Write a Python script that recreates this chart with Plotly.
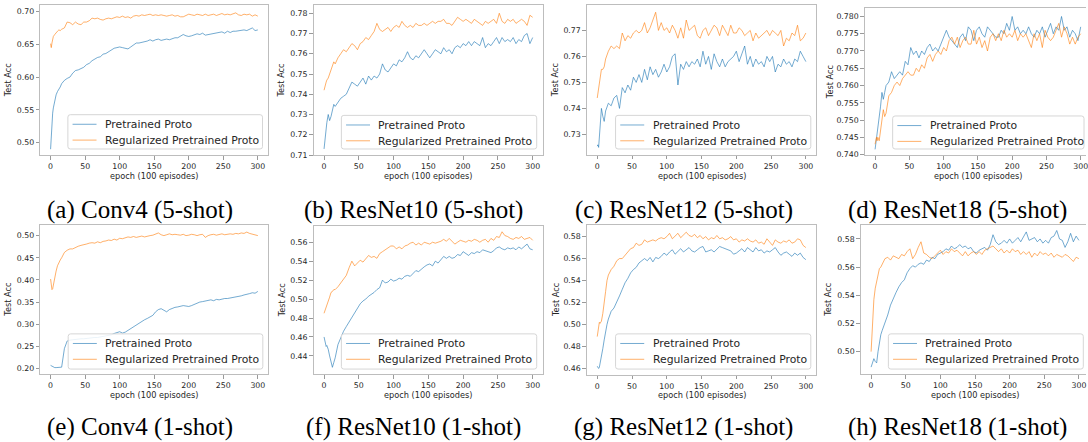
import plotly.graph_objects as go

# ---------------- data ----------------
EPOCHS = [0, 1, 2, 3, 4, 6, 8, 10, 12, 14, 16,
          20, 24, 28, 32, 36, 40, 44, 48, 52, 56,
          60, 64, 68, 72, 76, 80, 84, 88, 92, 96,
          100, 104, 108, 112, 116, 120, 124, 128, 132, 136,
          140, 144, 148, 152, 156, 160, 164, 168, 172, 176,
          180, 184, 188, 192, 196, 200, 204, 208, 212, 216,
          220, 224, 228, 232, 236, 240, 244, 248, 252, 256,
          260, 264, 268, 272, 276, 280, 284, 288, 292, 296,
          300]

SERIES_NAMES = ["Pretrained Proto", "Regularized Pretrained Proto"]
CAPTIONS = ["(a) Conv4 (5-shot)", "(b) ResNet10 (5-shot)", "(c) ResNet12 (5-shot)", "(d) ResNet18 (5-shot)",
            "(e) Conv4 (1-shot)", "(f) ResNet10 (1-shot)", "(g) ResNet12 (1-shot)", "(h) ResNet18 (1-shot)"]
X_TITLE = "epoch (100 episodes)"
Y_TITLE = "Test Acc"

CONV4_5_PRE = [0.490, 0.515, 0.535, 0.545, 0.553, 0.565, 0.573, 0.578, 0.581, 0.585, 0.590,
               0.595, 0.598, 0.600, 0.606, 0.610, 0.611, 0.613, 0.615, 0.619, 0.621,
               0.625, 0.628, 0.630, 0.631, 0.635, 0.636, 0.639, 0.641, 0.644, 0.645,
               0.646, 0.645, 0.644, 0.643, 0.646, 0.649, 0.652, 0.652, 0.653, 0.653,
               0.655, 0.657, 0.655, 0.657, 0.658, 0.656, 0.657, 0.658, 0.657, 0.659,
               0.660, 0.660, 0.662, 0.665, 0.663, 0.662, 0.663, 0.664, 0.666, 0.665,
               0.667, 0.664, 0.665, 0.666, 0.667, 0.667, 0.668, 0.669, 0.667, 0.670,
               0.668, 0.670, 0.670, 0.671, 0.671, 0.672, 0.671, 0.673, 0.675, 0.671,
               0.672]
CONV4_5_REG = [0.651, 0.645, 0.652, 0.658, 0.662, 0.665, 0.668, 0.670, 0.672, 0.671, 0.673,
               0.675, 0.684, 0.683, 0.680, 0.684, 0.681, 0.680, 0.684, 0.684, 0.686,
               0.690, 0.689, 0.690, 0.688, 0.687, 0.689, 0.690, 0.689, 0.691, 0.692,
               0.691, 0.693, 0.691, 0.692, 0.690, 0.693, 0.694, 0.693, 0.695, 0.694,
               0.695, 0.696, 0.694, 0.695, 0.694, 0.695, 0.694, 0.693, 0.694, 0.695,
               0.693, 0.694, 0.692, 0.692, 0.694, 0.696, 0.695, 0.694, 0.696, 0.695,
               0.694, 0.696, 0.694, 0.695, 0.696, 0.694, 0.695, 0.697, 0.695, 0.696,
               0.695, 0.697, 0.698, 0.695, 0.694, 0.696, 0.695, 0.696, 0.693, 0.695,
               0.693]

RES10_5_PRE = [0.713, 0.717, 0.720, 0.723, 0.726, 0.730, 0.727, 0.729, 0.733, 0.735, 0.734,
               0.736, 0.738, 0.739, 0.740, 0.743, 0.746, 0.745, 0.744, 0.746, 0.748,
               0.745, 0.749, 0.747, 0.749, 0.748, 0.750, 0.755, 0.752, 0.751, 0.753,
               0.755, 0.754, 0.757, 0.756, 0.758, 0.761, 0.758, 0.757, 0.759, 0.758,
               0.760, 0.762, 0.760, 0.758, 0.760, 0.762, 0.761, 0.760, 0.763, 0.761,
               0.762, 0.760, 0.763, 0.764, 0.763, 0.765, 0.764, 0.766, 0.764, 0.766,
               0.765, 0.764, 0.768, 0.763, 0.765, 0.764, 0.766, 0.768, 0.765, 0.768,
               0.766, 0.767, 0.766, 0.768, 0.765, 0.767, 0.766, 0.769, 0.770, 0.765,
               0.768]
RES10_5_REG = [0.742, 0.744, 0.745, 0.746, 0.747, 0.748, 0.750, 0.752, 0.755, 0.756, 0.755,
               0.758, 0.760, 0.762, 0.761, 0.763, 0.765, 0.764, 0.762, 0.765, 0.766,
               0.768, 0.767, 0.769, 0.771, 0.775, 0.772, 0.771, 0.772, 0.773, 0.771,
               0.773, 0.774, 0.773, 0.776, 0.774, 0.773, 0.774, 0.773, 0.775, 0.774,
               0.774, 0.775, 0.774, 0.775, 0.776, 0.775, 0.776, 0.776, 0.777, 0.775,
               0.775, 0.774, 0.776, 0.778, 0.777, 0.776, 0.777, 0.776, 0.775, 0.777,
               0.776, 0.775, 0.774, 0.776, 0.775, 0.776, 0.777, 0.775, 0.780, 0.776,
               0.775, 0.777, 0.776, 0.777, 0.775, 0.776, 0.777, 0.776, 0.774, 0.779,
               0.778]

RES12_5_PRE = [0.7255, 0.726, 0.725, 0.728, 0.732, 0.740, 0.737, 0.735, 0.739, 0.741, 0.742,
               0.741, 0.744, 0.745, 0.740, 0.748, 0.746, 0.749, 0.747, 0.752, 0.750,
               0.753, 0.750, 0.755, 0.751, 0.756, 0.753, 0.755, 0.752, 0.754, 0.757,
               0.754, 0.756, 0.760, 0.761, 0.749, 0.757, 0.755, 0.758, 0.756, 0.758,
               0.757, 0.759, 0.756, 0.762, 0.757, 0.760, 0.755, 0.761, 0.758, 0.756,
               0.759, 0.756, 0.758, 0.759, 0.760, 0.762, 0.758, 0.761, 0.764, 0.757,
               0.760, 0.756, 0.759, 0.757, 0.758, 0.756, 0.760, 0.758, 0.760, 0.754,
               0.757, 0.756, 0.759, 0.757, 0.758, 0.756, 0.759, 0.758, 0.762, 0.760,
               0.758]
RES12_5_REG = [0.744, 0.746, 0.748, 0.750, 0.752, 0.755, 0.755, 0.756, 0.759, 0.761, 0.762,
               0.764, 0.763, 0.764, 0.763, 0.769, 0.766, 0.768, 0.767, 0.769, 0.770,
               0.769, 0.770, 0.773, 0.769, 0.771, 0.774, 0.777, 0.770, 0.773, 0.770,
               0.771, 0.769, 0.772, 0.770, 0.767, 0.771, 0.767, 0.774, 0.770, 0.771,
               0.772, 0.768, 0.767, 0.770, 0.771, 0.768, 0.770, 0.772, 0.771, 0.768,
               0.772, 0.770, 0.768, 0.772, 0.769, 0.769, 0.771, 0.770, 0.768, 0.769,
               0.770, 0.766, 0.769, 0.767, 0.768, 0.769, 0.770, 0.768, 0.770, 0.769,
               0.768, 0.770, 0.764, 0.767, 0.766, 0.769, 0.768, 0.772, 0.766, 0.767,
               0.769]

RES18_5_PRE = [0.7415, 0.743, 0.744, 0.745, 0.747, 0.750, 0.754, 0.758, 0.756, 0.758, 0.760,
               0.761, 0.764, 0.762, 0.763, 0.764, 0.763, 0.767, 0.766, 0.771, 0.769,
               0.770, 0.768, 0.770, 0.769, 0.771, 0.772, 0.770, 0.771, 0.770, 0.772,
               0.774, 0.776, 0.774, 0.773, 0.772, 0.771, 0.774, 0.775, 0.773, 0.777,
               0.776, 0.773, 0.776, 0.777, 0.775, 0.774, 0.777, 0.776, 0.775, 0.774,
               0.774, 0.776, 0.775, 0.778, 0.776, 0.780, 0.776, 0.777, 0.775, 0.776,
               0.775, 0.777, 0.775, 0.774, 0.776, 0.775, 0.777, 0.774, 0.776, 0.778,
               0.775, 0.777, 0.776, 0.780, 0.776, 0.777, 0.774, 0.776, 0.775, 0.773,
               0.777]
RES18_5_REG = [0.743, 0.744, 0.745, 0.744, 0.745, 0.744, 0.748, 0.750, 0.753, 0.751, 0.752,
               0.757, 0.758, 0.760, 0.761, 0.760, 0.762, 0.763, 0.764, 0.763, 0.763,
               0.765, 0.764, 0.766, 0.765, 0.768, 0.769, 0.767, 0.769, 0.770, 0.769,
               0.771, 0.770, 0.773, 0.774, 0.772, 0.774, 0.771, 0.773, 0.774, 0.772,
               0.772, 0.776, 0.772, 0.774, 0.771, 0.773, 0.770, 0.774, 0.775, 0.773,
               0.775, 0.773, 0.776, 0.774, 0.775, 0.774, 0.776, 0.773, 0.775, 0.774,
               0.775, 0.773, 0.771, 0.775, 0.773, 0.775, 0.771, 0.776, 0.774, 0.773,
               0.774, 0.776, 0.778, 0.774, 0.777, 0.775, 0.772, 0.774, 0.772, 0.774,
               0.775]

CONV4_1_PRE = [0.207, 0.206, 0.205, 0.204, 0.203, 0.202, 0.202, 0.202, 0.202, 0.202, 0.203,
               0.245, 0.262, 0.264, 0.265, 0.266, 0.266, 0.267, 0.267, 0.268, 0.268,
               0.269, 0.270, 0.270, 0.271, 0.272, 0.273, 0.274, 0.276, 0.279, 0.281,
               0.283, 0.280, 0.282, 0.286, 0.290, 0.295, 0.299, 0.303, 0.307, 0.310,
               0.313, 0.316, 0.320, 0.328, 0.333, 0.335, 0.331, 0.328, 0.333, 0.336,
               0.338, 0.339, 0.341, 0.342, 0.341, 0.340, 0.342, 0.345, 0.348, 0.350,
               0.351, 0.352, 0.354, 0.355, 0.353, 0.356, 0.355, 0.357, 0.358, 0.358,
               0.359, 0.360, 0.362, 0.363, 0.364, 0.366, 0.367, 0.369, 0.371, 0.370,
               0.374]
CONV4_1_REG = [0.402, 0.385, 0.378, 0.380, 0.390, 0.405, 0.420, 0.432, 0.440, 0.445, 0.450,
               0.462, 0.467, 0.470, 0.470, 0.474, 0.476, 0.478, 0.479, 0.481, 0.483,
               0.484, 0.483, 0.486, 0.484, 0.487, 0.488, 0.490, 0.489, 0.492, 0.490,
               0.494, 0.493, 0.495, 0.497, 0.496, 0.498, 0.496, 0.497, 0.499, 0.497,
               0.499, 0.500, 0.501, 0.504, 0.506, 0.502, 0.500, 0.502, 0.504, 0.502,
               0.503, 0.502, 0.501, 0.503, 0.500, 0.501, 0.503, 0.502, 0.500, 0.502,
               0.503, 0.496, 0.500, 0.502, 0.503, 0.501, 0.502, 0.504, 0.502, 0.503,
               0.504, 0.503, 0.505, 0.504, 0.506, 0.505, 0.508, 0.505, 0.503, 0.501,
               0.500]

RES10_1_PRE = [0.460, 0.455, 0.452, 0.450, 0.451, 0.447, 0.440, 0.432, 0.428, 0.433, 0.438,
               0.452, 0.460, 0.466, 0.471, 0.476, 0.481, 0.485, 0.490, 0.495, 0.498,
               0.500, 0.503, 0.505, 0.507, 0.510, 0.512, 0.520, 0.517, 0.518, 0.521,
               0.519, 0.520, 0.522, 0.521, 0.524, 0.525, 0.524, 0.527, 0.530, 0.529,
               0.532, 0.534, 0.536, 0.537, 0.535, 0.540, 0.538, 0.542, 0.545, 0.543,
               0.545, 0.543, 0.544, 0.547, 0.546, 0.550, 0.548, 0.546, 0.549, 0.548,
               0.550, 0.549, 0.552, 0.551, 0.550, 0.549, 0.551, 0.554, 0.555, 0.553,
               0.552, 0.554, 0.553, 0.554, 0.552, 0.555, 0.553, 0.556, 0.558, 0.553,
               0.552]
RES10_1_REG = [0.485, 0.487, 0.489, 0.490, 0.492, 0.498, 0.502, 0.507, 0.508, 0.510, 0.510,
               0.513, 0.517, 0.520, 0.525, 0.533, 0.540, 0.535, 0.538, 0.541, 0.539,
               0.543, 0.546, 0.544, 0.545, 0.543, 0.548, 0.550, 0.552, 0.554, 0.556,
               0.556, 0.553, 0.555, 0.553, 0.556, 0.557, 0.559, 0.560, 0.557, 0.559,
               0.557, 0.560, 0.559, 0.558, 0.560, 0.559, 0.560, 0.561, 0.563, 0.561,
               0.564, 0.561, 0.558, 0.560, 0.562, 0.561, 0.560, 0.562, 0.561, 0.563,
               0.562, 0.560, 0.562, 0.563, 0.560, 0.564, 0.562, 0.566, 0.565, 0.571,
               0.567, 0.566, 0.564, 0.563, 0.565, 0.564, 0.566, 0.563, 0.564, 0.565,
               0.562]

RES12_1_PRE = [0.462, 0.461, 0.460, 0.461, 0.464, 0.470, 0.478, 0.486, 0.494, 0.500, 0.505,
               0.512, 0.515, 0.520, 0.526, 0.532, 0.538, 0.542, 0.547, 0.550, 0.552,
               0.556, 0.558, 0.560, 0.558, 0.561, 0.557, 0.561, 0.560, 0.562, 0.565,
               0.563, 0.566, 0.568, 0.564, 0.567, 0.569, 0.566, 0.568, 0.570, 0.567,
               0.566, 0.568, 0.570, 0.571, 0.566, 0.567, 0.568, 0.566, 0.569, 0.571,
               0.570, 0.569, 0.568, 0.567, 0.564, 0.565, 0.567, 0.569, 0.566, 0.570,
               0.568, 0.566, 0.570, 0.567, 0.568, 0.565, 0.567, 0.566, 0.568, 0.570,
               0.566, 0.563, 0.565, 0.566, 0.564, 0.562, 0.565, 0.563, 0.565, 0.561,
               0.559]
RES12_1_REG = [0.489, 0.495, 0.500, 0.502, 0.501, 0.503, 0.510, 0.518, 0.530, 0.540, 0.545,
               0.550, 0.553, 0.558, 0.560, 0.560, 0.563, 0.566, 0.569, 0.570, 0.574,
               0.572, 0.573, 0.577, 0.575, 0.576, 0.577, 0.576, 0.578, 0.579, 0.578,
               0.580, 0.583, 0.578, 0.581, 0.583, 0.579, 0.582, 0.584, 0.581, 0.580,
               0.582, 0.579, 0.581, 0.578, 0.580, 0.577, 0.579, 0.578, 0.581, 0.578,
               0.579, 0.577, 0.578, 0.580, 0.577, 0.578, 0.575, 0.577, 0.576, 0.578,
               0.576, 0.575, 0.577, 0.574, 0.575, 0.573, 0.578, 0.575, 0.572, 0.577,
               0.575, 0.574, 0.576, 0.575, 0.577, 0.574, 0.575, 0.578, 0.577, 0.572,
               0.570]

RES18_1_PRE = [0.489, 0.491, 0.493, 0.495, 0.495, 0.493, 0.492, 0.500, 0.508, 0.512, 0.515,
               0.520, 0.526, 0.533, 0.538, 0.542, 0.546, 0.549, 0.551, 0.556, 0.559,
               0.561, 0.560, 0.562, 0.563, 0.562, 0.565, 0.564, 0.567, 0.566, 0.569,
               0.570, 0.571, 0.573, 0.572, 0.575, 0.573, 0.574, 0.576, 0.574, 0.575,
               0.573, 0.574, 0.571, 0.570, 0.572, 0.573, 0.574, 0.572, 0.576, 0.583,
               0.578, 0.576, 0.577, 0.579, 0.577, 0.580, 0.577, 0.579, 0.581, 0.578,
               0.582, 0.585, 0.579, 0.580, 0.581, 0.578, 0.580, 0.577, 0.579, 0.577,
               0.581, 0.582, 0.586, 0.580, 0.579, 0.574, 0.578, 0.584, 0.578, 0.582,
               0.579]
RES18_1_REG = [0.500, 0.510, 0.520, 0.530, 0.537, 0.545, 0.550, 0.555, 0.559, 0.560, 0.562,
               0.566, 0.567, 0.565, 0.568, 0.567, 0.566, 0.569, 0.568, 0.571, 0.573,
               0.566, 0.569, 0.574, 0.578, 0.570, 0.569, 0.567, 0.566, 0.568, 0.570,
               0.572, 0.569, 0.571, 0.570, 0.573, 0.571, 0.572, 0.570, 0.568, 0.571,
               0.568, 0.570, 0.571, 0.569, 0.571, 0.569, 0.572, 0.573, 0.574, 0.575,
               0.573, 0.571, 0.573, 0.570, 0.572, 0.570, 0.573, 0.571, 0.572, 0.569,
               0.571, 0.569, 0.571, 0.567, 0.570, 0.568, 0.571, 0.569, 0.570, 0.568,
               0.570, 0.567, 0.569, 0.568, 0.567, 0.569, 0.568, 0.566, 0.564, 0.567,
               0.566]

PANEL_SERIES = [(CONV4_5_PRE, CONV4_5_REG), (RES10_5_PRE, RES10_5_REG),
                (RES12_5_PRE, RES12_5_REG), (RES18_5_PRE, RES18_5_REG),
                (CONV4_1_PRE, CONV4_1_REG), (RES10_1_PRE, RES10_1_REG),
                (RES12_1_PRE, RES12_1_REG), (RES18_1_PRE, RES18_1_REG)]

# ---------------- layout (pixel geometry) ----------------
W, H = 1088, 442
PANELS = [
    dict(x0=40.3, x1=268.7, y0=5.0, y1=157.0, xr=[-15, 315], yr=[0.4808, 0.7101], dt=0.05, fmt=".2f"),
    dict(x0=314.2, x1=544.1, y0=5.0, y1=157.0, xr=[-15, 315], yr=[0.7099, 0.7841], dt=0.01, fmt=".2f"),
    dict(x0=587.9, x1=817.8, y0=5.0, y1=156.7, xr=[-15, 315], yr=[0.7221, 0.7798], dt=0.01, fmt=".2f"),
    dict(x0=866.4, x1=1093.0, y0=8.3, y1=157.0, xr=[-15, 315], yr=[0.7398, 0.7824], dt=0.005, fmt=".3f"),
    dict(x0=40.3, x1=268.7, y0=227.3, y1=378.3, xr=[-15, 315], yr=[0.1875, 0.5246], dt=0.05, fmt=".2f"),
    dict(x0=314.2, x1=544.1, y0=228.3, y1=378.3, xr=[-15, 315], yr=[0.4209, 0.5774], dt=0.02, fmt=".2f"),
    dict(x0=587.9, x1=817.8, y0=227.3, y1=379.0, xr=[-15, 315], yr=[0.4543, 0.5908], dt=0.02, fmt=".2f"),
    dict(x0=862.3, x1=1091.3, y0=227.3, y1=378.3, xr=[-15, 315], yr=[0.4841, 0.5901], dt=0.02, fmt=".2f"),
]
# legend boxes: left, top, right, bottom (px)
LEGEND_BOX = [(68, 116, 263, 150.7), (342, 116.7, 537.7, 150.7), (616.7, 116.7, 812.3, 150.7),
              (894.3, 117.3, 1086, 150.7), (68.3, 337.7, 263.3, 373.3), (342, 337.7, 537.7, 373.3),
              (616.7, 337.7, 812.3, 373.3), (890, 337.7, 1085.3, 373.3)]
YTITLE_X = [8.3, 282, 556.3, 831, 8.3, 282, 556.3, 830]
XTITLE_Y = [178.3, 178.3, 178.3, 178.3, 400, 400, 400, 400]
CAPTION_X = [140.3, 414, 685, 959.3]
CAPTION_Y = [212.5, 431.5]

COLORS = ["rgba(31,119,180,0.62)", "rgba(255,127,14,0.62)"]
SPINE = "#bdbdbd"
FONT = "DejaVu Sans"


def px(x):
    return x / W


def py(y):
    return 1 - y / H


def rounded_rect(l, t, r, b, rad=2.5):
    L, R, T, B = px(l), px(r), py(t), py(b)
    rx, ry = rad / W, rad / H
    return (f"M{L + rx},{T} L{R - rx},{T} Q{R},{T} {R},{T - ry} "
            f"L{R},{B + ry} Q{R},{B} {R - rx},{B} L{L + rx},{B} "
            f"Q{L},{B} {L},{B + ry} L{L},{T - ry} Q{L},{T} {L + rx},{T} Z")


fig = go.Figure()
annotations = []
shapes = []
layout = dict(width=W, height=H, margin=dict(l=0, r=0, t=0, b=0),
              paper_bgcolor="white", plot_bgcolor="white", showlegend=False)

for i, (p, series) in enumerate(zip(PANELS, PANEL_SERIES)):
    sfx = "" if i == 0 else str(i + 1)
    x_right = min(p["x1"], W)
    px_per_unit = (p["x1"] - p["x0"]) / (p["xr"][1] - p["xr"][0])
    xr = [p["xr"][0], p["xr"][0] + (x_right - p["x0"]) / px_per_unit]
    clipped = p["x1"] > W
    layout["xaxis" + sfx] = dict(
        domain=[p["x0"] / W, x_right / W], range=xr, anchor="y" + sfx,
        tick0=0, dtick=50, showgrid=False, zeroline=False,
        showline=True, linecolor=SPINE, linewidth=1, mirror=True,
        ticks="outside", ticklen=3.5, tickwidth=1, tickcolor="#9a9a9a",
        ticklabeloverflow="allow",
        tickfont=dict(family=FONT, size=7.8, color="#262626"))
    layout["yaxis" + sfx] = dict(
        domain=[1 - p["y1"] / H, 1 - p["y0"] / H], range=p["yr"], anchor="x" + sfx,
        tick0=0, dtick=p["dt"], tickformat=p["fmt"], showgrid=False, zeroline=False,
        showline=True, linecolor=SPINE, linewidth=1, mirror=not clipped,
        ticks="outside", ticklen=3.5, tickwidth=1, tickcolor="#9a9a9a",
        tickfont=dict(family=FONT, size=7.8, color="#262626"))
    for name, ys, col in zip(SERIES_NAMES, series, COLORS):
        fig.add_trace(go.Scatter(x=EPOCHS, y=ys, mode="lines", name=name,
                                 line=dict(color=col, width=1),
                                 xaxis="x" + sfx, yaxis="y" + sfx,
                                 hoverinfo="skip"))
    # legend box drawn over the plot
    l, t, r, b = LEGEND_BOX[i]
    shapes.append(dict(type="path", path=rounded_rect(l, t, r, b), xref="paper", yref="paper",
                       fillcolor="rgba(255,255,255,0.85)", line=dict(color="#d6d6d6", width=1),
                       layer="above"))
    for k, (name, col) in enumerate(zip(SERIES_NAMES, COLORS)):
        yy = t + 9.7 + 16.0 * k
        shapes.append(dict(type="line", xref="paper", yref="paper",
                           x0=px(l + 4.7), x1=px(l + 28.7), y0=py(yy), y1=py(yy),
                           line=dict(color=col, width=1), layer="above"))
        annotations.append(dict(text=name, x=px(l + 35.0), y=py(yy + 0.3), xref="paper", yref="paper",
                                showarrow=False, xanchor="left", yanchor="middle",
                                font=dict(family=FONT, size=10.8, color="#262626")))
    # axis titles
    annotations.append(dict(text=X_TITLE, x=px((p["x0"] + p["x1"]) / 2), y=py(XTITLE_Y[i]),
                            xref="paper", yref="paper", showarrow=False,
                            xanchor="center", yanchor="middle",
                            font=dict(family=FONT, size=8.2, color="#262626")))
    annotations.append(dict(text=Y_TITLE, x=px(YTITLE_X[i]), y=py((p["y0"] + p["y1"]) / 2),
                            xref="paper", yref="paper", showarrow=False, textangle=-90,
                            xanchor="center", yanchor="middle",
                            font=dict(family=FONT, size=8.2, color="#262626")))
    # caption
    annotations.append(dict(text=CAPTIONS[i], x=px(CAPTION_X[i % 4]), y=py(CAPTION_Y[i // 4]),
                            xref="paper", yref="paper", showarrow=False,
                            xanchor="center", yanchor="middle",
                            font=dict(family="Liberation Serif", size=25, color="black")))

layout["annotations"] = annotations
layout["shapes"] = shapes
fig.update_layout(**layout)
fig.write_html("out.html",
               config={"displayModeBar": False},
               post_script="document.body.style.margin='0';document.body.style.padding='0';"
                           "document.documentElement.style.overflow='hidden';")
